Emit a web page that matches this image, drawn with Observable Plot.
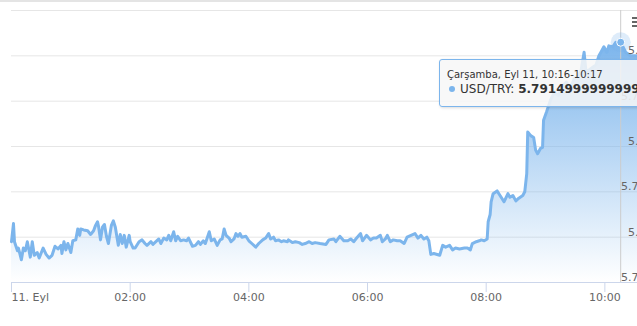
<!DOCTYPE html>
<html>
<head>
<meta charset="utf-8">
<script src="https://cdn.jsdelivr.net/npm/d3@7"></script>
<script src="https://cdn.jsdelivr.net/npm/@observablehq/plot@0.6"></script>
<style>
html, body { margin: 0; padding: 0; overflow: hidden; background: #ffffff; }
#wrap { position: relative; width: 637px; height: 326px; overflow: hidden; font-family: "DejaVu Sans", sans-serif; }
#wrap > svg { position: absolute; left: 0; top: 0; }
#topline { position: absolute; left: 0; top: 0; width: 637px; height: 2px; background: #e4e4e4; }
#menu { position: absolute; left: 632px; top: 17px; width: 12px; height: 12px; }
#menu div { position: absolute; left: 0; width: 12px; height: 2px; background: #666666; }
#tip { position: absolute; left: 439px; top: 59px; width: 260px; height: 46px; border: 1px solid #7cb5ec; border-radius: 3px;
       background: rgba(247,247,247,0.85); box-shadow: 1px 1px 3px rgba(0,0,0,0.15); color: #333333; }
#tip .h { position: absolute; left: 7px; top: 9px; font-size: 10px; line-height: 12px; white-space: nowrap; }
#tip .p { position: absolute; left: 9px; top: 22px; font-size: 12px; line-height: 14px; white-space: nowrap; }
#tip .dot { display: inline-block; width: 6px; height: 6px; border-radius: 50%; background: #7cb5ec; vertical-align: middle; margin-right: 5px; position: relative; top: -1px; }
</style>
</head>
<body>
<svg width="0" height="0" style="position:absolute">
  <defs>
    <linearGradient id="areaGrad" x1="0" y1="0" x2="0" y2="1">
      <stop offset="0" stop-color="#7cb5ec" stop-opacity="1"></stop>
      <stop offset="1" stop-color="#7cb5ec" stop-opacity="0"></stop>
    </linearGradient>
  </defs>
</svg>
<div id="wrap"></div>
<script>
// ---- data (minutes after midnight, 11 Sep; USD/TRY price) ----
const minutes = [0,2,3,6,7,10,12,14,16,19,21,23,26,28,32,35,38,41,44,47,50,51,53,55,57,60,62,65,67,69,70,73,77,80,83,85,87,88,90,92,94,96,98,101,103,105,108,110,112,114,116,119,120,123,125,129,132,135,137,141,143,146,149,151,154,157,159,161,164,166,168,171,174,177,179,183,186,189,191,194,196,200,202,205,208,211,213,215,217,220,222,225,227,229,231,233,237,240,243,247,250,254,257,260,262,265,267,270,273,275,279,280,284,287,291,294,297,301,304,307,312,318,321,326,328,332,336,340,343,346,349,353,355,359,363,366,369,373,375,378,380,383,386,390,393,397,400,404,408,411,414,417,420,422,424,427,433,436,439,443,446,449,453,458,461,464,466,470,473,475,478,481,482,484,485,487,491,494,498,502,504,507,510,513,517,519,521,522,525,528,530,532,535,537,538,541,545,549,553,557,561,565,569,574,576,579,581,586,591,594,596,599,602,604,608,611,614,616,621,626,633,640];
const prices = [5.7695,5.7715,5.7695,5.7685,5.7688,5.7675,5.7688,5.7685,5.7695,5.7678,5.7695,5.7680,5.7683,5.7677,5.7688,5.7681,5.7677,5.7680,5.7690,5.7687,5.7691,5.7682,5.7695,5.7686,5.7693,5.7683,5.7696,5.7697,5.7709,5.7702,5.7709,5.7708,5.7707,5.7703,5.7707,5.7713,5.7717,5.7712,5.7697,5.7711,5.7714,5.7701,5.7693,5.7713,5.7718,5.7711,5.7691,5.7703,5.7693,5.7702,5.7689,5.7702,5.7695,5.7688,5.7688,5.7695,5.7697,5.7693,5.7691,5.7695,5.7692,5.7695,5.7698,5.7693,5.7699,5.7697,5.7702,5.7696,5.7706,5.7696,5.7701,5.7696,5.7697,5.7696,5.7699,5.7690,5.7691,5.7695,5.7692,5.7696,5.7693,5.7706,5.7696,5.7698,5.7691,5.7697,5.7698,5.7709,5.7702,5.7699,5.7695,5.7698,5.7704,5.7701,5.7704,5.7700,5.7701,5.7696,5.7693,5.7689,5.7693,5.7697,5.7699,5.7704,5.7698,5.7700,5.7696,5.7697,5.7695,5.7696,5.7695,5.7697,5.7694,5.7695,5.7694,5.7692,5.7693,5.7695,5.7693,5.7694,5.7693,5.7692,5.7697,5.7698,5.7695,5.7701,5.7696,5.7696,5.7698,5.7695,5.7699,5.7704,5.7696,5.7702,5.7697,5.7699,5.7699,5.7702,5.7695,5.7698,5.7702,5.7695,5.7697,5.7696,5.7696,5.7693,5.7700,5.7702,5.7704,5.7699,5.7702,5.7698,5.7700,5.7696,5.7681,5.7682,5.7680,5.7691,5.7689,5.7691,5.7686,5.7688,5.7687,5.7688,5.7688,5.7686,5.7693,5.7695,5.7696,5.7697,5.7696,5.7698,5.7717,5.7725,5.7739,5.7748,5.7751,5.7746,5.7739,5.7748,5.7744,5.7746,5.7740,5.7743,5.7746,5.7750,5.7770,5.7816,5.7812,5.7810,5.7796,5.7792,5.7798,5.7799,5.7829,5.7838,5.7851,5.7860,5.7856,5.7867,5.7871,5.7864,5.7875,5.7879,5.7884,5.7904,5.7882,5.7886,5.7890,5.7900,5.7904,5.7910,5.7904,5.7911,5.7910,5.7915,5.7913,5.7915,5.7904,5.7900,5.7900,5.7898];

const yTicks = [5.765, 5.77, 5.775, 5.78, 5.785, 5.79, 5.795];
const yTickLabels = ["5.765", "5.77", "5.775", "5.78", "5.785", "5.79"];
const xTickTimes = ["00:00", "02:00", "04:00", "06:00", "08:00", "10:00"];
const xTickLabels = ["11. Eyl", "02:00", "04:00", "06:00", "08:00", "10:00"];
const xDomain = ["00:00", "10:33"];
const hoverTime = "10:16";
const hoverPrice = 5.7915;
const tipHeader = "Çarşamba, Eyl 11, 10:16-10:17";
const seriesName = "USD/TRY";
const tipValue = "5.791499999999999";

// ---- build ----
const toDate = hm => { const [h, m] = hm.split(":").map(Number); return new Date(Date.UTC(2019, 8, 11, h, m)); };
const data = minutes.map((m, i) => ({t: new Date(Date.UTC(2019, 8, 11, 0, m)), v: prices[i]}));
const yLabelData = yTickLabels.map((s, i) => ({v: yTicks[i], s}));
const xLabelData = xTickTimes.map((s, i) => ({t: toDate(s), s: xTickLabels[i]}));
const hover = [{t: toDate(hoverTime), v: hoverPrice}];
const yMin = yTicks[0];

const chart = Plot.plot({
  width: 637,
  height: 326,
  marginTop: 10,
  marginBottom: 44,
  marginLeft: 11,
  marginRight: 0,
  style: {fontFamily: "DejaVu Sans", fontSize: "11px", color: "#ccd6eb", background: "transparent", overflow: "hidden"},
  x: {type: "utc", domain: xDomain.map(toDate), ticks: xTickTimes.map(toDate), tickSize: 10, tickFormat: () => "", label: null},
  y: {domain: [yTicks[0], yTicks[yTicks.length - 1]], axis: null},
  marks: [
    Plot.ruleY(yTicks.slice(1), {stroke: "#e6e6e6", strokeWidth: 1}),
    Plot.areaY(data, {x: "t", y1: () => yMin, y2: "v", fill: "url(#areaGrad)"}),
    Plot.ruleY([yMin], {stroke: "#ccd6eb", strokeWidth: 1}),
    Plot.ruleX(hover, {x: "t", stroke: "#cccccc", strokeWidth: 1}),
    Plot.lineY(data, {x: "t", y: "v", stroke: "#7cb5ec", strokeWidth: 3, strokeLinejoin: "round", strokeLinecap: "round"}),
    Plot.text(yLabelData, {y: "v", text: "s", frameAnchor: "right", dx: 15, dy: -5, textAnchor: "end", lineAnchor: "middle", fill: "#666666", fontSize: 11}),
    Plot.text(xLabelData.slice(0, 1), {x: "t", text: "s", frameAnchor: "bottom", lineAnchor: "top", dy: 11, textAnchor: "start", fill: "#666666", fontSize: 11}),
    Plot.text(xLabelData.slice(1), {x: "t", text: "s", frameAnchor: "bottom", lineAnchor: "top", dy: 11, textAnchor: "middle", fill: "#666666", fontSize: 11}),
    Plot.dot(hover, {x: "t", y: "v", r: 10, fill: "#7cb5ec", fillOpacity: 0.25, stroke: "none"}),
    Plot.dot(hover, {x: "t", y: "v", r: 4, fill: "#7cb5ec", stroke: "#ffffff", strokeWidth: 1})
  ]
});

const wrap = document.getElementById("wrap");
wrap.appendChild(chart);

const topLine = document.createElement("div");
topLine.id = "topline";
wrap.appendChild(topLine);

const menu = document.createElement("div");
menu.id = "menu";
[0, 4, 8].forEach(o => { const bar = document.createElement("div"); bar.style.top = o + "px"; menu.appendChild(bar); });
wrap.appendChild(menu);

const tip = document.createElement("div");
tip.id = "tip";
const tipHead = document.createElement("div");
tipHead.className = "h";
tipHead.textContent = tipHeader;
const tipPoint = document.createElement("div");
tipPoint.className = "p";
const tipDot = document.createElement("span");
tipDot.className = "dot";
tipPoint.appendChild(tipDot);
tipPoint.appendChild(document.createTextNode(seriesName + ": "));
const tipBold = document.createElement("b");
tipBold.textContent = tipValue;
tipPoint.appendChild(tipBold);
tip.appendChild(tipHead);
tip.appendChild(tipPoint);
wrap.appendChild(tip);
</script>
</body>
</html>
